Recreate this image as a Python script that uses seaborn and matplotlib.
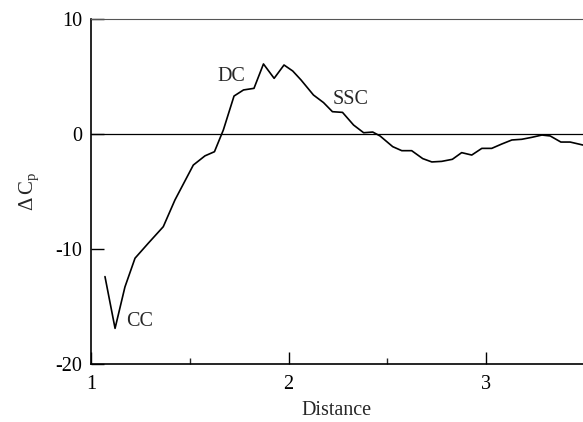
import matplotlib
matplotlib.use("Agg")
import numpy as np
import pandas as pd
import matplotlib.pyplot as plt
import seaborn as sns

# 距離と ΔCp
distance = [1.071, 1.122, 1.172, 1.223, 1.29, 1.366, 1.425, 1.518, 1.577, 1.625,
            1.67, 1.724, 1.772, 1.825, 1.873, 1.927, 1.977, 2.021, 2.063, 2.126,
            2.177, 2.222, 2.273, 2.329, 2.38, 2.426, 2.463, 2.527, 2.573, 2.623,
            2.679, 2.725, 2.775, 2.829, 2.876, 2.927, 2.978, 3.028, 3.079, 3.13,
            3.18, 3.231, 3.282, 3.324, 3.378, 3.425, 3.49]
delta_cp = [-12.4, -16.9, -13.3, -10.8, -9.5, -8.06, -5.74, -2.7, -1.9, -1.54,
            0.35, 3.3, 3.83, 3.97, 6.09, 4.84, 6.0, 5.48, 4.7, 3.39,
            2.73, 1.94, 1.88, 0.78, 0.11, 0.17, -0.17, -1.1, -1.45, -1.45,
            -2.14, -2.43, -2.38, -2.2, -1.62, -1.83, -1.25, -1.25, -0.87, -0.52,
            -0.46, -0.29, -0.09, -0.17, -0.7, -0.7, -0.96]

labels = ["CC", "DC", "SSC"]
label_x = [1.248, 1.709, 2.316]
label_y = [-16.3, 5.04, 2.96]

x_ticks = [1, 2, 3]
y_ticks = [-20, -10, 0, 10]

sns.set_theme(style="ticks")
plt.rcParams["font.family"] = ["Liberation Serif", "DejaVu Serif"]
plt.rcParams["mathtext.fontset"] = "custom"
plt.rcParams["mathtext.rm"] = "Liberation Serif"
plt.rcParams["axes.unicode_minus"] = False

df = pd.DataFrame({"Distance": distance, "dCp": delta_cp})

fig = plt.figure(figsize=(5.83, 4.22), dpi=100)
ax = fig.add_axes([0.156, 0.1374, 0.844, 0.8176])

ax.axhline(0, color="black", lw=0.9)
sns.lineplot(data=df, x="Distance", y="dCp", sort=False, color="black",
             lw=1.2, ax=ax)

for t, x, y in zip(labels, label_x, label_y):
    ax.text(x, y, t, fontsize=14.5, ha="center", va="center")

ax.set_xlim(1, 3.49)
ax.set_ylim(-20, 10)
ax.set_xticks(x_ticks)
ax.set_xticks([1.5, 2.5], minor=True)
ax.set_yticks(y_ticks)
ax.tick_params(which="major", direction="in", length=9, width=1,
               labelsize=14.5, colors="black")
ax.tick_params(which="minor", direction="in", length=4, width=1)
ax.tick_params(axis="x", pad=8)
ax.tick_params(axis="y", pad=6)

ax.set_xlabel("Distance", fontsize=14.5, labelpad=5)
ax.set_ylabel(r"$\Delta\,\mathrm{C}_{\mathrm{p}}$", fontsize=15, labelpad=10)

ax.spines["right"].set_visible(False)
ax.spines["left"].set_linewidth(1.2)
ax.spines["bottom"].set_linewidth(1.2)
ax.spines["top"].set_linewidth(0.8)
ax.spines["top"].set_color("#555555")
for s in ["left", "bottom"]:
    ax.spines[s].set_color("black")

fig.savefig("out.png", dpi=100)
